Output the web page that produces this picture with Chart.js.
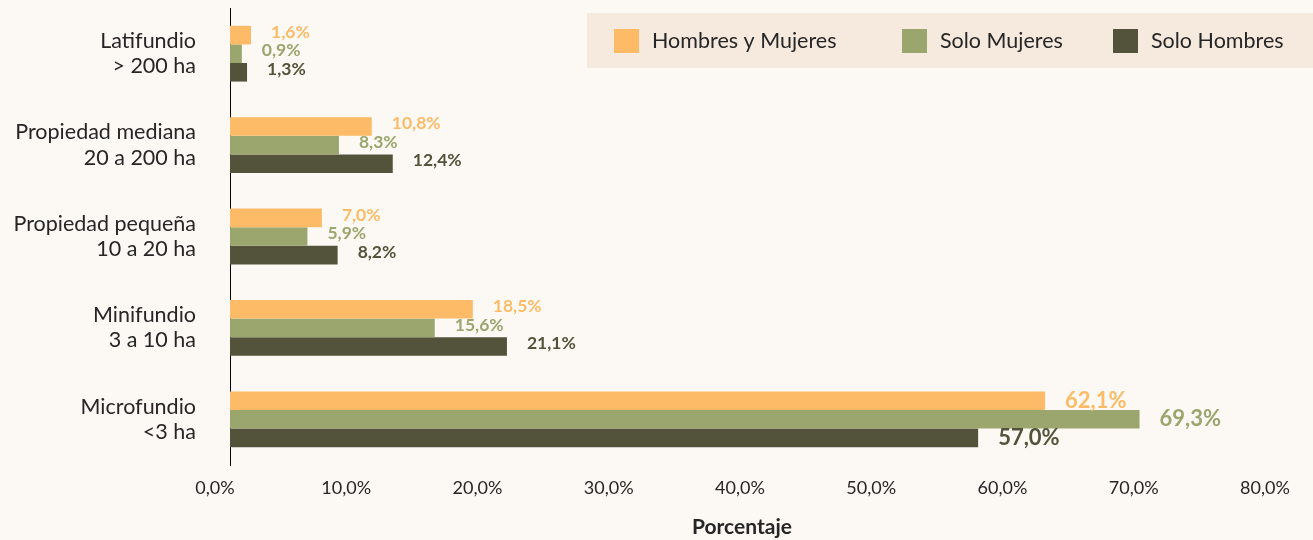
<!DOCTYPE html>
<html>
<head>
<meta charset="utf-8">
<script src="https://cdn.jsdelivr.net/npm/chart.js@4"></script>
<style>
  html, body { margin: 0; padding: 0; background: #fcf9f4; }
  #wrap { width: 1313px; height: 540px; position: relative; }
</style>
</head>
<body>
<div id="wrap"><canvas id="chart"></canvas></div>
<script>
// ===== Data =====
const categories = [
    ['Latifundio', '> 200 ha'],
    ['Propiedad mediana', '20 a 200 ha'],
    ['Propiedad pequeña', '10 a 20 ha'],
    ['Minifundio', '3 a 10 ha'],
    ['Microfundio', '<3 ha']
];
const seriesNames = ['Hombres y Mujeres', 'Solo Mujeres', 'Solo Hombres'];
const hombresYMujeres = [1.6, 10.8, 7.0, 18.5, 62.1];
const soloMujeres = [0.9, 8.3, 5.9, 15.6, 69.3];
const soloHombres = [1.3, 12.4, 8.2, 21.1, 57.0];
const xTicks = [0, 10, 20, 30, 40, 50, 60, 70, 80];

const colors = ['#fdbb67', '#9ba66e', '#52533a'];
const FONT = 'Lato, "Open Sans", sans-serif';

const fmt = v => v.toFixed(1).replace('.', ',') + '%';

// ===== Value labels + legend + axis title =====
const extras = {
    id: 'extras',
    afterDatasetsDraw(chart) {
        const ctx = chart.ctx;
        ctx.save();
        ctx.textBaseline = 'middle';
        ctx.textAlign = 'left';
        chart.data.datasets.forEach((ds, di) => {
            const meta = chart.getDatasetMeta(di);
            meta.data.forEach((bar, i) => {
                const big = i === categories.length - 1;
                ctx.font = 'bold ' + (big ? 22 : 17.5) + 'px ' + FONT;
                ctx.fillStyle = colors[di];
                ctx.fillText(fmt(ds.data[i]), bar.x + 20, bar.y - (big ? 0 : 3));
            });
        });

        // legend box
        ctx.fillStyle = '#f6eadf';
        ctx.fillRect(587, 13, 726, 55);
        const legendX = [614, 902, 1113];
        ctx.font = '21.5px ' + FONT;
        seriesNames.forEach((name, i) => {
            ctx.fillStyle = colors[i];
            ctx.fillRect(legendX[i], 29, 25, 24);
            ctx.fillStyle = '#262626';
            ctx.fillText(name, legendX[i] + 38, 41);
        });

        // axis title
        ctx.font = 'bold 21px ' + FONT;
        ctx.textAlign = 'center';
        ctx.fillStyle = '#262626';
        ctx.fillText('Porcentaje', 742, 527);
        ctx.restore();
    }
};

const ctx = document.getElementById('chart').getContext('2d');
new Chart(ctx, {
    type: 'bar',
    data: {
        labels: categories,
        datasets: [
            { label: seriesNames[0], data: hombresYMujeres, backgroundColor: colors[0] },
            { label: seriesNames[1], data: soloMujeres, backgroundColor: colors[1] },
            { label: seriesNames[2], data: soloHombres, backgroundColor: colors[2] }
        ]
    },
    options: {
        indexAxis: 'y',
        responsive: true,
        maintainAspectRatio: false,
        animation: false,
        categoryPercentage: 0.61,
        barPercentage: 1,
        layout: { padding: { top: 8, right: 33, left: 0, bottom: 0 } },
        plugins: {
            legend: { display: false },
            tooltip: { enabled: false }
        },
        scales: {
            x: {
                min: 0,
                max: 80,
                afterBuildTicks: s => { s.ticks = xTicks.map(v => ({ value: v })); },
                afterFit: s => { s.height = 75; s.paddingLeft = 0; s.paddingRight = 0; },
                grid: { display: false, drawTicks: false },
                border: { display: false },
                ticks: {
                    padding: 12,
                    labelOffset: -15,
                    color: '#262626',
                    font: { family: FONT, size: 18 },
                    callback: v => fmt(v)
                }
            },
            y: {
                afterFit: s => { s.width = 230; s.paddingTop = 0; s.paddingBottom = 0; },
                grid: { display: false, drawTicks: false },
                border: { display: true, color: '#000', width: 1 },
                ticks: {
                    padding: 34,
                    color: '#262626',
                    font: { family: FONT, size: 21.5, lineHeight: 1.17 }
                }
            }
        }
    },
    plugins: [extras]
});
</script>
</body>
</html>
